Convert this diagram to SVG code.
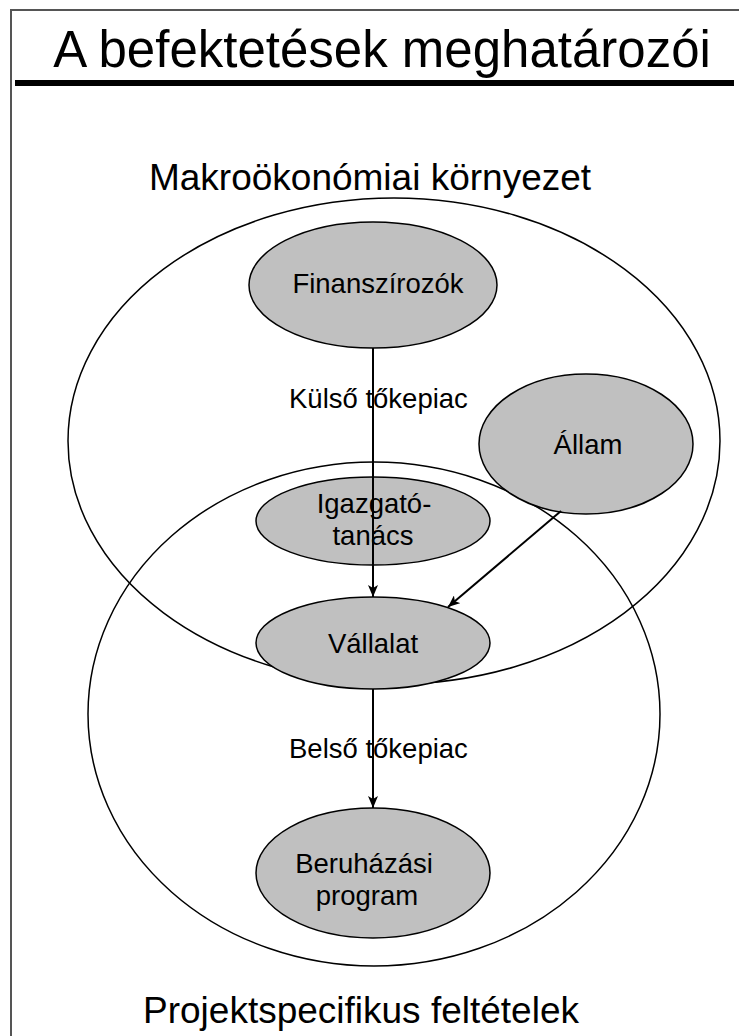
<svg xmlns="http://www.w3.org/2000/svg" width="739" height="1036" viewBox="0 0 739 1036">
<style>
text{font-family:"Liberation Sans",Arial,sans-serif;fill:#000}
.lbl{font-size:27.5px;text-anchor:middle}
.big{fill:none;stroke:#000;stroke-width:1.5}
.node{fill:#c0c0c0;stroke:#000;stroke-width:1.5}
.con{stroke:#000;stroke-width:2;fill:none}
</style>
<defs>
<marker id="ah" viewBox="0 0 12 10" refX="12" refY="5" markerWidth="12" markerHeight="10" markerUnits="userSpaceOnUse" orient="auto">
<path d="M0,0 L12,5 L0,10 L3,5 Z" fill="#000"/>
</marker>
</defs>
<rect width="739" height="1036" fill="#fff"/>
<g id="frame">
<line x1="11" y1="10" x2="11" y2="1036" stroke="#555" stroke-width="2"/>
<line x1="10" y1="10" x2="739" y2="10" stroke="#555" stroke-width="2"/>
</g>
<g id="title">
<text x="382" y="67" font-size="51" text-anchor="middle">A befektetések meghatározói</text>
<rect x="15" y="80" width="719" height="6" fill="#000"/>
</g>
<g id="makro">
<ellipse class="big" cx="394" cy="441" rx="326" ry="243"/>
<text x="370" y="190" font-size="37" text-anchor="middle">Makroökonómiai környezet</text>
</g>
<g id="projekt">
<ellipse class="big" cx="374" cy="714" rx="286" ry="252"/>
<text x="361" y="1023" font-size="37" text-anchor="middle">Projektspecifikus feltételek</text>
</g>
<g id="finanszirozok">
<ellipse class="node" cx="373" cy="285" rx="124" ry="63"/>
<text class="lbl" x="378" y="293">Finanszírozók</text>
</g>
<g id="allam">
<ellipse class="node" cx="586" cy="444" rx="107" ry="70"/>
<text class="lbl" x="588" y="454">Állam</text>
</g>
<g id="igazgatotanacs">
<ellipse class="node" cx="373" cy="521" rx="117" ry="44"/>
<text class="lbl" x="374" y="513">Igazgató-</text>
<text class="lbl" x="373" y="545">tanács</text>
</g>
<g id="vallalat">
<ellipse class="node" cx="373" cy="643" rx="117" ry="46"/>
<text class="lbl" x="373" y="653">Vállalat</text>
</g>
<g id="beruhazasi">
<ellipse class="node" cx="373" cy="873" rx="117" ry="65"/>
<text class="lbl" x="364" y="873">Beruházási</text>
<text class="lbl" x="367" y="905">program</text>
</g>
<g id="connectors">
<line class="con" x1="373" y1="348" x2="373" y2="597" marker-end="url(#ah)"/>
<line class="con" x1="561" y1="511" x2="448" y2="607" marker-end="url(#ah)"/>
<line class="con" x1="373" y1="689" x2="373" y2="808" marker-end="url(#ah)"/>
</g>
<g id="edge-labels">
<text x="289" y="408" font-size="27.5">Külső tőkepiac</text>
<text x="289" y="758" font-size="27.5">Belső tőkepiac</text>
</g>
</svg>
